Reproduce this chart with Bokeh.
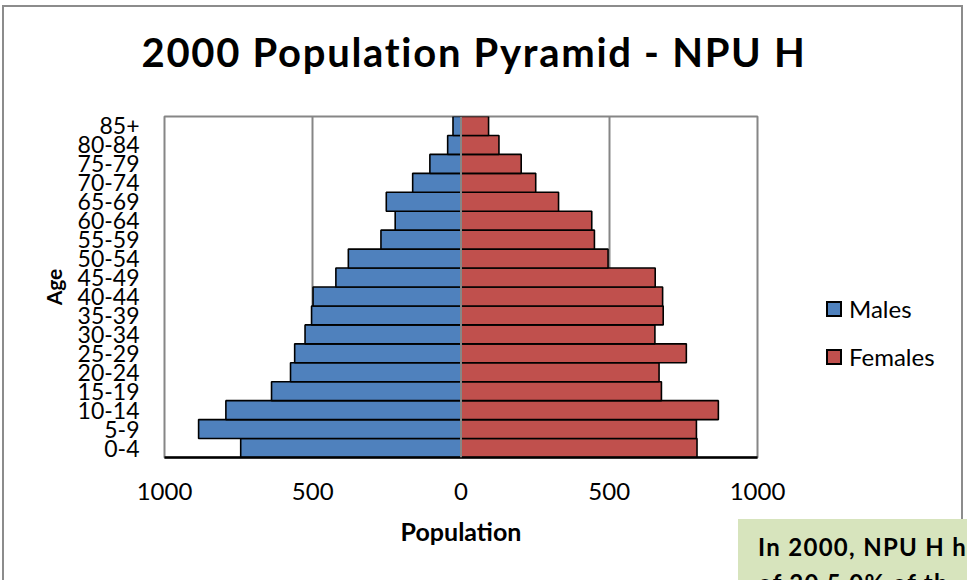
from bokeh.plotting import figure
from bokeh.models import (Range1d, FactorRange, FixedTicker, Span,
                          ColumnDataSource, Div)
from bokeh.embed import file_html
from bokeh.resources import INLINE

# ---- data ----
age_groups = ["0-4", "5-9", "10-14", "15-19", "20-24", "25-29", "30-34", "35-39",
              "40-44", "45-49", "50-54", "55-59", "60-64", "65-69", "70-74",
              "75-79", "80-84", "85+"]
males = [743, 885, 793, 639, 575, 561, 526, 504, 499, 422, 380, 270, 222, 252,
         163, 105, 45, 27]
females = [796, 794, 868, 676, 668, 760, 654, 682, 680, 655, 496, 450, 441, 329,
           252, 203, 128, 93]
series_names = ["Males", "Females"]
series_colors = ["#4F81BD", "#C0504D"]
x_ticks = [-1000, -500, 0, 500, 1000]
x_tick_labels = ["1000", "500", "0", "500", "1000"]
title_text = "2000 Population Pyramid - NPU H"
note_lines = ["In 2000, NPU H h", "of 20.5 0% of th"]

FONT = "Lato"
GRID = "#868686"

src = ColumnDataSource(dict(
    age=age_groups,
    m_left=[-v for v in males],
    zero=[0] * len(age_groups),
    f_right=females,
))

p = figure(width=951, height=564, output_backend="svg", toolbar_location=None,
           x_range=Range1d(-1000, 1000),
           y_range=FactorRange(factors=age_groups, range_padding=0),
           min_border_left=164, min_border_right=194,
           min_border_top=116, min_border_bottom=107)

p.background_fill_color = "white"
p.border_fill_color = "white"
p.outline_line_color = GRID
p.outline_line_width = 2

r_m = p.hbar(y="age", left="m_left", right="zero", height=1.0, source=src,
             fill_color=series_colors[0], line_color="black", line_width=1.6)
r_f = p.hbar(y="age", left="zero", right="f_right", height=1.0, source=src,
             fill_color=series_colors[1], line_color="black", line_width=1.6)

p.add_layout(Span(location=0, dimension="height", line_color=GRID, line_width=2))

# x axis
p.xaxis.ticker = FixedTicker(ticks=x_ticks)
p.xaxis.major_label_overrides = {t: l for t, l in zip(x_ticks, x_tick_labels)}
p.xaxis.axis_label = "Population"
p.xaxis.axis_label_text_font = FONT
p.xaxis.axis_label_text_font_style = "bold"
p.xaxis.axis_label_text_font_size = "25px"
p.xaxis.axis_label_text_color = "black"
p.xaxis.axis_label_standoff = 13
p.xaxis.major_label_text_font = FONT
p.xaxis.major_label_text_font_size = "24px"
p.xaxis.major_label_text_color = "black"
p.xaxis.major_label_standoff = 25
p.xaxis.major_tick_line_color = None
p.xaxis.major_tick_out = 0
p.xaxis.major_tick_in = 0
p.xaxis.minor_tick_line_color = None
p.xaxis.axis_line_color = "black"
p.xaxis.axis_line_width = 2.5

# y axis
p.yaxis.axis_label = "Age"
p.yaxis.axis_label_text_font = FONT
p.yaxis.axis_label_text_font_style = "bold"
p.yaxis.axis_label_text_font_size = "21px"
p.yaxis.axis_label_text_color = "black"
p.yaxis.axis_label_standoff = 9
p.yaxis.major_label_text_font = FONT
p.yaxis.major_label_text_font_size = "23px"
p.yaxis.major_label_text_color = "black"
p.yaxis.major_label_standoff = 25
p.yaxis.major_tick_line_color = None
p.yaxis.major_tick_out = 0
p.yaxis.major_tick_in = 0
p.yaxis.minor_tick_line_color = None
p.yaxis.axis_line_color = None

p.xgrid.ticker = FixedTicker(ticks=x_ticks)
p.xgrid.grid_line_color = GRID
p.xgrid.grid_line_width = 2
p.ygrid.grid_line_color = None

# title (HTML overlay so it can sit exactly where the chart title is)
title_div = Div(text=title_text, styles={
    "position": "absolute", "left": "0px", "top": "28px", "width": "948px",
    "text-align": "center", "font-family": "Lato", "font-weight": "bold",
    "font-size": "40px", "line-height": "48px", "letter-spacing": "1.7px",
    "color": "black", "white-space": "nowrap", "z-index": "4"})

# legend (HTML overlay placed to the right of the plot area)
item_html = []
for name, color in zip(series_names, series_colors):
    item_html.append(
        '<div style="display:flex;align-items:center;height:32px;margin-bottom:16px;">'
        '<span style="display:inline-block;width:16px;height:16px;box-sizing:border-box;'
        'border:2px solid black;background:%s;margin-right:7px;"></span>%s</div>'
        % (color, name))
legend_div = Div(text="".join(item_html), styles={
    "position": "absolute", "left": "826px", "top": "293px",
    "font-family": "Lato", "font-size": "24px", "color": "black",
    "line-height": "32px", "z-index": "4"})

# outer chart-area border
border_div = Div(text="", styles={
    "position": "absolute", "left": "2px", "top": "5px",
    "width": "961px", "height": "575px", "box-sizing": "border-box",
    "border-left": "2px solid #8c8c8c", "border-top": "2px solid #8c8c8c",
    "border-right": "2px solid #8c8c8c", "pointer-events": "none",
    "z-index": "3"})

# note box at bottom right
note = Div(text="<br>".join(note_lines), styles={
    "position": "absolute", "left": "738px", "top": "519px",
    "width": "229px", "height": "61px", "box-sizing": "border-box",
    "padding": "10px 0 0 20px", "background-color": "#D7E4BD",
    "overflow": "hidden", "white-space": "nowrap", "font-family": "Lato",
    "font-weight": "bold", "font-size": "24px", "line-height": "36px",
    "letter-spacing": "1.3px", "color": "black", "z-index": "5"})

p.elements = [border_div, title_div, legend_div, note]

open("out.html", "w").write(file_html(p, INLINE))
